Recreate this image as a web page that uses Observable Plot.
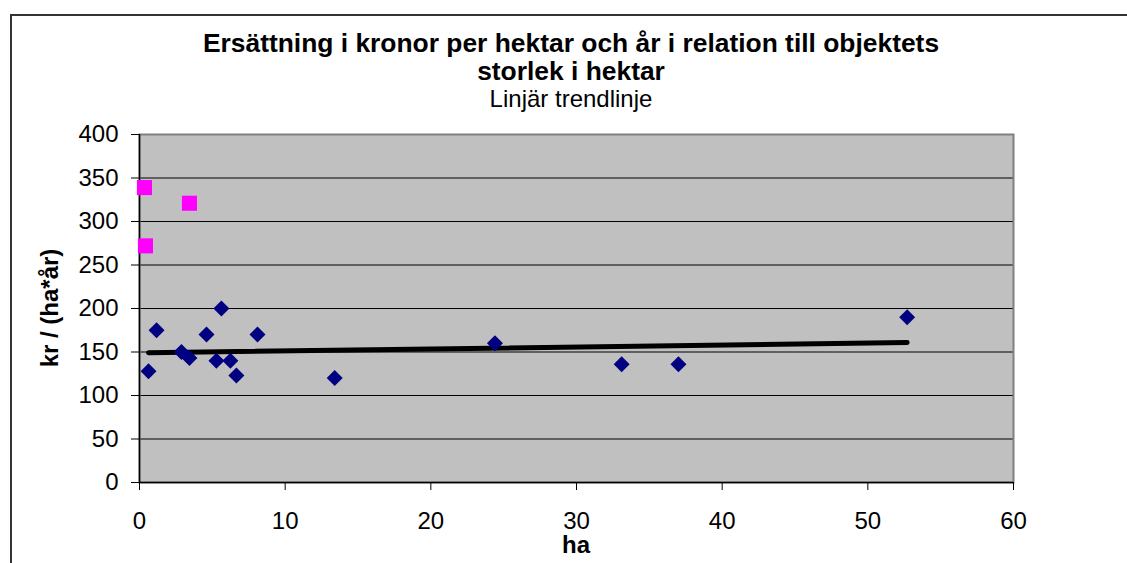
<!DOCTYPE html>
<html>
<head>
<meta charset="utf-8">
<script src="https://cdn.jsdelivr.net/npm/d3@7"></script>
<script src="https://cdn.jsdelivr.net/npm/@observablehq/plot@0.6"></script>
<style>
  html, body { margin: 0; padding: 0; background: #fff; }
  #wrap { position: relative; width: 1127px; height: 563px; overflow: hidden; font-family: "Liberation Sans", Arial, sans-serif; color: #000; }
  #wrap svg { position: absolute; left: 0; top: 0; }
  .t { position: absolute; white-space: nowrap; line-height: 24px; transform: translateX(-50%); }
  .b { font-weight: bold; }
  #bt { position: absolute; left: 10px; top: 14px; width: 1117px; height: 2px; background: #333; }
  #bl { position: absolute; left: 10px; top: 14px; width: 2px; height: 549px; background: #333; }
</style>
</head>
<body>
<div id="wrap">
  <div id="bt"></div><div id="bl"></div>
</div>
<script>
// Data
const blueHa  = [0.62, 1.17, 2.88, 3.43, 4.6, 5.28, 5.62, 6.24, 6.65, 8.1, 13.4, 24.4, 33.1, 37.0, 52.7];
const blueKr  = [128, 175, 150, 143, 170, 140, 200, 140, 123, 170, 120, 160, 136, 136, 190];
const pinkHa  = [0.34, 3.43, 0.41];
const pinkKr  = [339, 321, 272];
const xTicks  = [0, 10, 20, 30, 40, 50, 60];
const yTicks  = [0, 50, 100, 150, 200, 250, 300, 350, 400];
const titleLines = ["Ersättning i kronor per hektar och år i relation till objektets", "storlek i hektar"];
const subtitle = "Linjär trendlinje";
const xLabel = "ha";
const yLabel = "kr / (ha*år)";

const blue = blueHa.map((x, i) => ({x, y: blueKr[i]}));
const pink = pinkHa.map((x, i) => ({x, y: pinkKr[i]}));

const chart = Plot.plot({
  width: 1127,
  height: 563,
  marginLeft: 139,
  marginRight: 114,
  marginTop: 134,
  marginBottom: 81,
  style: {fontFamily: "'Liberation Sans', Arial, sans-serif", fontSize: "24px", background: "transparent", color: "#000"},
  x: {domain: [0, 60]},
  y: {domain: [0, 400]},
  marks: [
    Plot.frame({fill: "#C0C0C0"}),
    Plot.gridY(yTicks, {stroke: "#000", strokeOpacity: 1, strokeWidth: 1}),
    Plot.frame({stroke: "#808080", strokeWidth: 2}),
    Plot.ruleX([0], {stroke: "#000", strokeWidth: 1.5}),
    Plot.ruleY([0], {stroke: "#000", strokeWidth: 1.5}),
    Plot.axisX({ticks: xTicks, tickSize: 8, tickPadding: 21, fontSize: 24, label: null, stroke: "#000"}),
    Plot.axisY({ticks: yTicks, tickSize: 8, tickPadding: 13, fontSize: 24, label: null, stroke: "#000"}),
    Plot.linearRegressionY(blue, {x: "x", y: "y", stroke: "#000", strokeWidth: 5, ci: 0, strokeLinecap: "round"}),
    Plot.dot(blue, {x: "x", y: "y", symbol: "diamond2", fill: "#000080", r: 7.2}),
    Plot.dot(pink, {x: "x", y: "y", symbol: "square", fill: "#FF00FF", r: 8.5})
  ]
});

const wrap = document.getElementById("wrap");
wrap.appendChild(chart);

function addText(txt, cls, left, top, size, extra) {
  const d = document.createElement("div");
  d.className = "t " + cls;
  d.textContent = txt;
  d.style.left = left + "px";
  d.style.top = top + "px";
  d.style.fontSize = size + "px";
  if (extra) Object.assign(d.style, extra);
  wrap.appendChild(d);
  return d;
}
addText(titleLines[0], "b", 571, 31, 26.4);
addText(titleLines[1], "b", 571, 59, 26.4);
addText(subtitle, "", 571, 87, 24);
addText(xLabel, "b", 576, 536, 24, {lineHeight: "18px"});
addText(yLabel, "b", 50, 296, 24, {transform: "translate(-50%, 0) rotate(-90deg)", transformOrigin: "50% 50%"});
</script>
</body>
</html>
